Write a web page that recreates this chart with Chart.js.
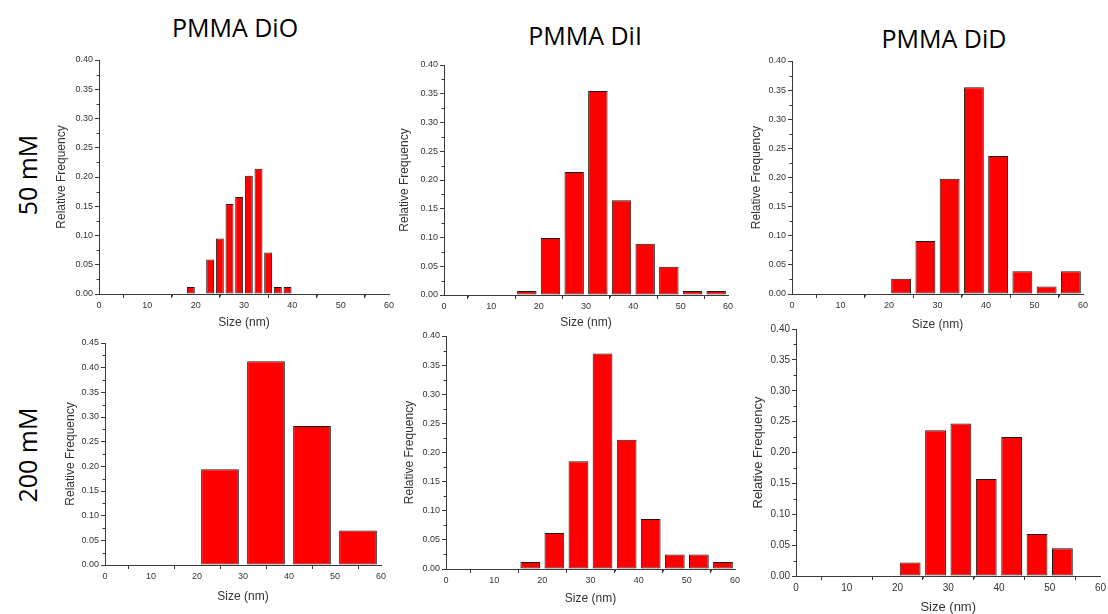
<!DOCTYPE html>
<html>
<head>
<meta charset="utf-8">
<title>PMMA size histograms</title>
<script src="https://cdn.jsdelivr.net/npm/chart.js"></script>
<style>
  html, body { margin: 0; padding: 0; background: #fff; overflow: hidden; }
  body { width: 1108px; height: 614px; position: relative; font-family: "Open Sans", sans-serif; }
  .panel { position: absolute; }
  .title { position: absolute; font-size: 25px; color: #000; white-space: nowrap; transform: translate(-50%, -50%); }
  .row { position: absolute; font-size: 25px; color: #000; white-space: nowrap; transform: translate(-50%, -50%) rotate(-90deg); }
</style>
</head>
<body>
<div class="title" style="left:235px; top:27px;">PMMA DiO</div>
<div class="title" style="left:585px; top:35px;">PMMA DiI</div>
<div class="title" style="left:944px; top:38px;">PMMA DiD</div>
<div class="row" style="left:27px; top:175px;">50 mM</div>
<div class="row" style="left:27px; top:455px;">200 mM</div>

<script>
// bin centres (nm) and relative frequencies
var dioBins50 = [19, 23, 25, 27, 29, 31, 33, 35, 37, 39];
var dio50 = [0.012, 0.059, 0.095, 0.154, 0.166, 0.202, 0.214, 0.071, 0.012, 0.012];

var diiBins50 = [17.5, 22.5, 27.5, 32.5, 37.5, 42.5, 47.5, 52.5, 57.5];
var dii50 = [0.007, 0.099, 0.214, 0.355, 0.165, 0.089, 0.049, 0.007, 0.007];

var didBins50 = [22.5, 27.5, 32.5, 37.5, 42.5, 47.5, 52.5, 57.5];
var did50 = [0.026, 0.091, 0.198, 0.355, 0.237, 0.039, 0.013, 0.039];

var dioBins200 = [25, 35, 45, 55];
var dio200 = [0.194, 0.413, 0.282, 0.070];

var diiBins200 = [17.5, 22.5, 27.5, 32.5, 37.5, 42.5, 47.5, 52.5, 57.5];
var dii200 = [0.012, 0.062, 0.185, 0.370, 0.222, 0.086, 0.025, 0.025, 0.012];

var didBins200 = [22.5, 27.5, 32.5, 37.5, 42.5, 47.5, 52.5];
var did200 = [0.022, 0.236, 0.247, 0.157, 0.225, 0.068, 0.045];

var xTicks = [0, 10, 20, 30, 40, 50, 60];

// plot area of each panel in the page (left, top, right, bottom)
var panels = [
  { bins: dioBins50,  vals: dio50,  yMax: 0.40, area: [99, 60, 389, 294],  yT: 37, xT: 29, f: 9 },
  { bins: diiBins50,  vals: dii50,  yMax: 0.40, area: [444, 65, 728, 295], yT: 39, xT: 28, f: 9 },
  { bins: didBins50,  vals: did50,  yMax: 0.40, area: [792, 61, 1083, 294], yT: 35, xT: 31, f: 9 },
  { bins: dioBins200, vals: dio200, yMax: 0.45, area: [105, 343, 381, 565], yT: 34, xT: 32, f: 9 },
  { bins: diiBins200, vals: dii200, yMax: 0.40, area: [446, 336, 735, 569], yT: 36, xT: 30, f: 9 },
  { bins: didBins200, vals: did200, yMax: 0.40, area: [796, 329, 1102, 576], yT: 38, xT: 31, f: 10 }
];

var axisColor = '#3a3a3a';
var labelColor = '#333';
var Y_W = 48, X_H = 42, PAD_T = 8;

// short minor ticks between the labelled ones
var minorTicks = {
  id: 'minorTicks',
  afterDraw: function(chart) {
    var ctx = chart.ctx, x = chart.scales.x, y = chart.scales.y;
    ctx.save();
    ctx.strokeStyle = axisColor;
    ctx.lineWidth = 1;
    ctx.beginPath();
    for (var v = 5; v < 60; v += 10) {
      var px = Math.round(x.getPixelForValue(v)) + 0.5;
      ctx.moveTo(px, x.top);
      ctx.lineTo(px, x.top + 2.5);
    }
    for (var w = 0.025; w < y.max; w += 0.05) {
      var py = Math.round(y.getPixelForValue(w)) + 0.5;
      ctx.moveTo(y.right, py);
      ctx.lineTo(y.right - 2.5, py);
    }
    ctx.stroke();
    ctx.restore();
  }
};

panels.forEach(function(p, i) {
  var L = p.area[0], T = p.area[1], R = p.area[2], B = p.area[3];
  var padR = Math.min(12, 1108 - R);
  var div = document.createElement('div');
  div.className = 'panel';
  var cw = (R - L) + Y_W + padR;
  var ch = (B - T) + PAD_T + X_H;
  div.style.left = (L - Y_W) + 'px';
  div.style.top = (T - PAD_T) + 'px';
  var cv = document.createElement('canvas');
  cv.width = cw; cv.height = ch;
  cv.style.width = cw + 'px'; cv.style.height = ch + 'px';
  div.appendChild(cv);
  document.body.appendChild(div);

  var tickFont = { family: '"Liberation Sans", Arial, sans-serif', size: p.f };
  var titleFont = { family: '"Liberation Sans", Arial, sans-serif', size: p.f === 10 ? 13 : 12 };

  new Chart(cv.getContext('2d'), {
    type: 'bar',
    data: {
      datasets: [{
        data: p.bins.map(function(b, k) { return { x: b, y: p.vals[k] }; }),
        backgroundColor: '#ff0000',
        borderColor: '#1a1a1a',
        borderWidth: 1,
        borderSkipped: false,
        barPercentage: 0.82,
        categoryPercentage: 1.0
      }]
    },
    options: {
      responsive: false,
      animation: false,
      events: [],
      layout: { padding: { top: PAD_T, right: padR, left: 0, bottom: 0 } },
      plugins: { legend: { display: false }, tooltip: { enabled: false } },
      scales: {
        x: {
          type: 'linear',
          offset: false,
          min: 0, max: 60,
          afterFit: function(s) { s.height = X_H; },
          afterBuildTicks: function(s) { s.ticks = xTicks.map(function(v) { return { value: v }; }); },
          ticks: { font: tickFont, color: labelColor, padding: 2, maxRotation: 0,
                   callback: function(v) { return String(v); } },
          grid: { drawOnChartArea: false, tickLength: 4, color: axisColor },
          border: { display: true, color: axisColor, width: 1 },
          title: { display: true, text: 'Size (nm)', font: titleFont, color: labelColor,
                   padding: { top: 0, bottom: X_H - p.xT - titleFont.size * 0.6 } }
        },
        y: {
          min: 0, max: p.yMax,
          afterFit: function(s) { s.width = Y_W; },
          ticks: { stepSize: 0.05, font: tickFont, color: labelColor, padding: 2,
                   callback: function(v) { return v.toFixed(2); } },
          grid: { drawOnChartArea: false, tickLength: 4, color: axisColor },
          border: { display: true, color: axisColor, width: 1 },
          title: { display: true, text: 'Relative Frequency', font: titleFont, color: labelColor,
                   padding: { top: Y_W - p.yT - titleFont.size * 0.6, bottom: 0 } }
        }
      }
    },
    plugins: [minorTicks]
  });
});
</script>
</body>
</html>
